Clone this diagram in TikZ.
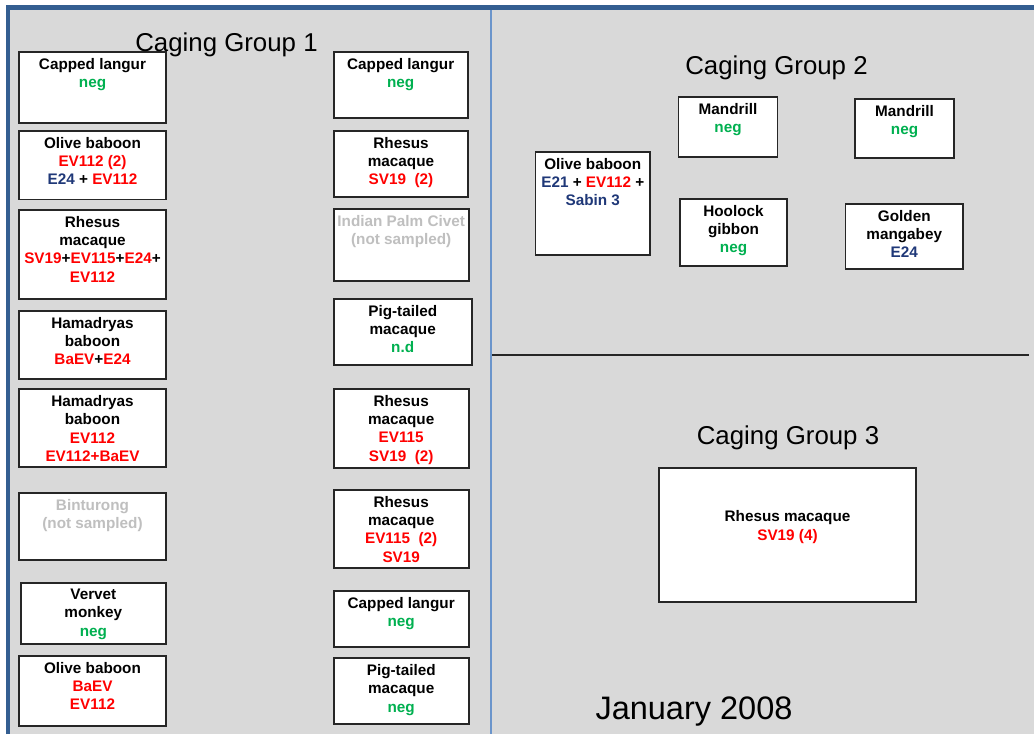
\documentclass[tikz,border=0pt]{standalone}
\usepackage{fontspec}
\setmainfont{Liberation Sans}
\usepackage{xcolor}
\usepackage{tikz}
\usetikzlibrary{positioning, fit}

\definecolor{frameblue}{RGB}{52,94,145}
\definecolor{divblue}{RGB}{107,149,203}
\definecolor{panelgrey}{RGB}{217,217,217}
\definecolor{boxline}{RGB}{38,38,38}
\definecolor{vred}{RGB}{255,0,0}
\definecolor{vgreen}{RGB}{0,176,80}
\definecolor{vnavy}{RGB}{31,56,120}
\definecolor{vgrey}{RGB}{191,191,191}

\newcommand{\redv}[1]{\textcolor{vred}{#1}}
\newcommand{\greenv}[1]{\textcolor{vgreen}{#1}}
\newcommand{\navyv}[1]{\textcolor{vnavy}{#1}}
\newcommand{\greyv}[1]{\textcolor{vgrey}{#1}}

% one cage: [text offset]{name}{x1}{y1}{x2}{y2}{text}
\newcommand{\cage}[7][3.9pt]{%
  \node[cagebox, fit={(#3,#4) (#5,#6)}] (#2) {};
  \node[cagetext, below=#1 of #2.north] (#2-t) {#7};
}

\begin{document}
\begin{tikzpicture}[
    x=0.02cm, y=-0.02cm,
    cagebox/.style={draw=boxline, fill=white, line width=1pt, inner sep=0pt},
    cagetext/.style={align=center, inner sep=0pt, font=\fontsize{8.7}{10.4}\selectfont\bfseries},
    grouptitle/.style={anchor=base, inner sep=0pt, font=\fontsize{14.7}{17}\selectfont},
    datetitle/.style={anchor=base, inner sep=0pt, font=\fontsize{18.5}{22}\selectfont}
  ]
  \useasboundingbox (0,0) rectangle (1034,734);
  \fill[white] (0,0) rectangle (1034,734);
  \fill[panelgrey] (8,8) rectangle (1034,734);
  \draw[frameblue, line width=2.8pt] (8,734) -- (8,7.5) -- (1034,7.5);
  \draw[divblue, line width=1.6pt] (491,10) -- (491,734);
  \draw[boxline, line width=1.1pt] (492,355.3) -- (1029,355.3);

  % group 1, left row
  \cage{la}{19.3}{52.3}{165.7}{122.7}{Capped langur\\\greenv{neg}}
  \cage{lb}{19.3}{131}{165.7}{199.5}{Olive baboon\\\redv{EV112 (2)}\\\navyv{E24} + \redv{EV112}}
  \cage{lc}{19.3}{210}{165.7}{299.3}{Rhesus\\macaque\\\redv{SV19}+\redv{EV115}+\redv{E24}+\\\redv{EV112}}
  \cage{ld}{19.3}{310.7}{165.7}{379}{Hamadryas\\baboon\\\redv{BaEV}+\redv{E24}}
  \cage{le}{19.3}{389.3}{165.7}{467.3}{Hamadryas\\baboon\\\redv{EV112}\\\redv{EV112+BaEV}}
  \cage{lf}{19.3}{492.7}{165.7}{560.3}{\greyv{Binturong}\\\greyv{(not sampled)}}
  \cage{lg}{21}{582.7}{165.7}{644.3}{Vervet\\monkey\\\greenv{neg}}
  \cage{lh}{19.3}{655.7}{165.7}{726.3}{Olive baboon\\\redv{BaEV}\\\redv{EV112}}

  % group 1, right row
  \cage{ma}{333.7}{52.3}{467.7}{118.3}{Capped langur\\\greenv{neg}}
  \cage{mb}{333.7}{131}{468.3}{196.7}{Rhesus\\macaque\\\redv{SV19~~(2)}}
  \cage{mc}{333.7}{209.3}{468.7}{281}{\greyv{Indian Palm Civet}\\\greyv{(not sampled)}}
  \cage{md}{333.7}{299}{471.7}{365}{Pig-tailed\\macaque\\\greenv{n.d}}
  \cage{me}{333.7}{389}{468.7}{467.7}{Rhesus\\macaque\\\redv{EV115}\\\redv{SV19~~(2)}}
  \cage{mf}{333.7}{490}{468.7}{567.7}{Rhesus\\macaque\\\redv{EV115~~(2)}\\\redv{SV19}}
  \cage{mg}{333.7}{591}{468.7}{647.3}{Capped langur\\\greenv{neg}}
  \cage{mh}{333.7}{658.3}{468.7}{724.3}{Pig-tailed\\macaque\\\greenv{neg}}

  % group 2
  \cage{ra}{535.5}{152}{650}{255}{Olive baboon\\\navyv{E21} + \redv{EV112} +\\\navyv{Sabin 3}}
  \cage{rb}{678.5}{97}{777.5}{157}{Mandrill\\\greenv{neg}}
  \cage{rc}{855}{99}{954}{158}{Mandrill\\\greenv{neg}}
  \cage{rd}{680}{199}{787}{266}{Hoolock\\gibbon\\\greenv{neg}}
  \cage{re}{845.5}{204}{963}{269}{Golden\\mangabey\\\navyv{E24}}

  % group 3
  \cage[24.7pt]{sa}{659}{468}{916}{602}{Rhesus macaque\\\redv{SV19 (4)}}

  \node[grouptitle] (g1) at (226.5,51) {Caging Group 1};
  \node[grouptitle] (g2) at (776.5,74) {Caging Group 2};
  \node[grouptitle] (g3) at (788,444) {Caging Group 3};
  \node[datetitle] (date) at (694,719) {January 2008};
\end{tikzpicture}
\end{document}
